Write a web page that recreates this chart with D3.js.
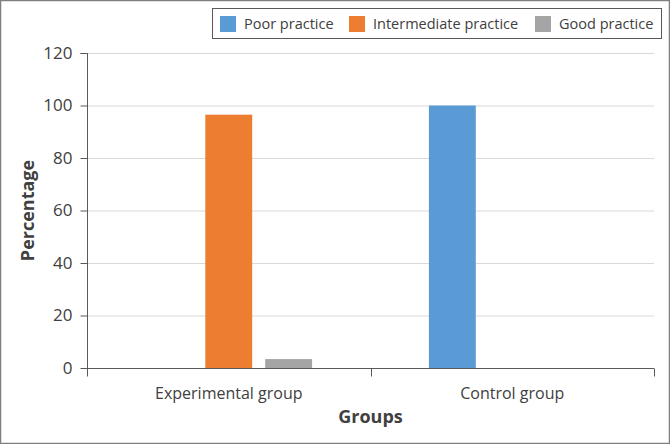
<!DOCTYPE html>
<html><head><meta charset="utf-8">
<script src="https://cdn.jsdelivr.net/npm/d3@7"></script>
<style>body{margin:0;background:#fff}svg{display:block}text{font-family:"Open Sans",sans-serif;fill:#404040}</style>
</head><body><svg id="c" width="670" height="444"></svg>
<script>
const groups = ["Experimental group", "Control group"];
const seriesNames = ["Poor practice", "Intermediate practice", "Good practice"];
const colors = ["#5b9bd5", "#ed7d31", "#a5a5a5"];
const poor = [0, 100];
const intermediate = [96.5, 0];
const good = [3.4, 0];
const yTicks = [0, 20, 40, 60, 80, 100, 120];

const values = [poor, intermediate, good];
const svg = d3.select("#c");
svg.append("rect").attr("x",0.5).attr("y",0.5).attr("width",669).attr("height",443)
  .attr("fill","#fff").attr("stroke","#7f7f7f").attr("stroke-width",1.5);

const L=87, R=654, T=53, B=368;
const y = d3.scaleLinear().domain([0,120]).range([B,T]);
const x0 = d3.scaleBand().domain(groups).range([L,R]).padding(0);
const bw = x0.bandwidth();
const x1 = d3.scaleBand().domain(seriesNames).range([bw*0.206, bw*0.794]).paddingInner(0.217).paddingOuter(0);

// grid
svg.append("g").selectAll("line").data(yTicks.filter(d=>d>0)).join("line")
  .attr("x1",L).attr("x2",R).attr("y1",d=>y(d)+0.5).attr("y2",d=>y(d)+0.5)
  .attr("stroke","#d9d9d9").attr("stroke-width",1);

// bars
const gG = svg.append("g").selectAll("g").data(groups).join("g")
  .attr("transform",g=>`translate(${x0(g)},0)`);
gG.selectAll("rect").data((g,gi)=>seriesNames.map((s,si)=>({s,si,v:values[si][gi]}))).join("rect")
  .attr("x",d=>x1(d.s)).attr("width",x1.bandwidth())
  .attr("y",d=>y(d.v)).attr("height",d=>B-y(d.v)).attr("fill",d=>colors[d.si]);

// y axis
const ya = svg.append("g").attr("transform",`translate(${L+0.5},0)`)
  .call(d3.axisLeft(y).tickValues(yTicks).tickSize(7).tickPadding(8));
ya.select(".domain").attr("stroke","#595959").attr("d",`M-7,${y(120)+0.5}H0V${B+8}`);
ya.selectAll(".tick line").attr("stroke","#595959");
ya.selectAll(".tick text").attr("font-size",17).attr("fill","#404040").attr("font-family","Open Sans");

// x axis
const xa = svg.append("g").attr("transform",`translate(0,${B+0.5})`);
xa.append("line").attr("x1",L).attr("x2",R).attr("stroke","#595959");
const bounds = groups.map(g=>x0(g)).concat([R]);
xa.selectAll(".tk").data(bounds).join("line").attr("class","tk")
  .attr("x1",d=>Math.round(d)+0.5).attr("x2",d=>Math.round(d)+0.5).attr("y1",0).attr("y2",8).attr("stroke","#595959");
xa.selectAll("text").data(groups).join("text")
  .attr("x",g=>x0(g)+bw/2).attr("y",30).attr("text-anchor","middle")
  .attr("font-size",16).text(g=>g);

svg.append("text").attr("x",(L+R)/2).attr("y",423).attr("text-anchor","middle")
  .attr("font-size",18).attr("font-weight","bold").attr("fill","#262626").text("Groups");
svg.append("text").attr("transform",`translate(34,${(T+B)/2}) rotate(-90)`).attr("text-anchor","middle")
  .attr("font-size",18).attr("font-weight","bold").attr("fill","#262626").text("Percentage");

// legend
const lg = svg.append("g");
lg.append("rect").attr("x",212.5).attr("y",8.5).attr("width",449).attr("height",30)
  .attr("fill","#fff").attr("stroke","#595959").attr("stroke-width",1);
const lx = [220, 349, 535];
seriesNames.forEach((s,i)=>{
  lg.append("rect").attr("x",lx[i]).attr("y",16).attr("width",16).attr("height",16).attr("fill",colors[i]);
  lg.append("text").attr("x",lx[i]+24).attr("y",29).attr("font-size",14.5).text(s);
});
</script></body></html>
